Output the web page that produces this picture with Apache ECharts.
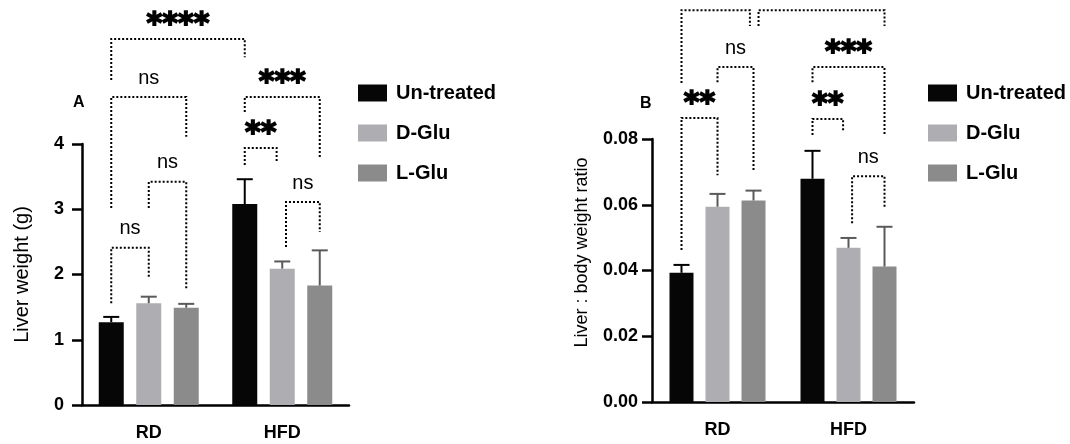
<!DOCTYPE html>
<html>
<head>
<meta charset="utf-8">
<script src="https://cdn.jsdelivr.net/npm/echarts@6/dist/echarts.min.js"></script>
<style>
html, body { margin: 0; padding: 0; background: #fff; }
#chart { width: 1070px; height: 444px; }
</style>
</head>
<body>
<div id="chart"></div>
<script>
const categories = ['RD', 'HFD'];
const groups = ['Un-treated', 'D-Glu', 'L-Glu'];
const groupColors = ['#060606', '#aeaeb2', '#8b8b8b'];
const errColors = ['#000000', '#5a5a5a', '#5a5a5a'];

// panel A - liver weight (g): means and upper error
const weightUntreated = [1.27, 3.08];
const weightDGlu = [1.56, 2.09];
const weightLGlu = [1.49, 1.83];
const weightUntreatedErr = [0.08, 0.38];
const weightDGluErr = [0.10, 0.11];
const weightLGluErr = [0.06, 0.54];
const weightTicks = [0, 1, 2, 3, 4];

// panel B - liver : body weight ratio
const ratioUntreated = [0.0393, 0.0679];
const ratioDGlu = [0.0594, 0.0469];
const ratioLGlu = [0.0613, 0.0412];
const ratioUntreatedErr = [0.0024, 0.0085];
const ratioDGluErr = [0.0039, 0.0030];
const ratioLGluErr = [0.0030, 0.0121];
const ratioTicks = [0, 0.02, 0.04, 0.06, 0.08];

// brackets: [from bar, to bar, line value, left leg end, right leg end, label]
// bars are numbered 0-2 for RD and 3-5 for HFD
const weightBrackets = [
  [0, 3, 5.61, 4.98, 5.33, '****'],
  [0, 2, 4.72, 3.02, 4.11, 'ns'],
  [0, 1, 2.41, 1.56, 1.95, 'ns'],
  [1, 2, 3.42, 3.02, 1.79, 'ns'],
  [3, 5, 4.72, 4.49, 3.79, '***'],
  [3, 3.85, 3.94, 3.68, 3.72, '**'],
  [4.1, 5, 3.11, 2.42, 2.65, 'ns']
];
const ratioBrackets = [
  [0, 1.9, 0.1192, 0.0970, 0.1144, ''],
  [2.14, 5, 0.1192, 0.1144, 0.1144, ''],
  [1, 2, 0.1019, 0.0973, 0.0700, 'ns'],
  [0, 1, 0.0864, 0.0462, 0.0690, '**'],
  [3, 5, 0.1019, 0.0973, 0.0812, '***'],
  [3, 3.85, 0.0861, 0.0812, 0.0821, '**'],
  [4.1, 5, 0.0687, 0.0544, 0.0590, 'ns']
];

const FONT = 'Liberation Sans, Arial, sans-serif';

const panels = [
  {
    grid: { left: 82, width: 267, top: 144, height: 261 },
    means: [weightUntreated, weightDGlu, weightLGlu],
    errs: [weightUntreatedErr, weightDGluErr, weightLGluErr],
    ticks: weightTicks, decimals: 0,
    brackets: weightBrackets,
    barWidth: 25, spacing: 37.5,
    name: 'Liver weight (g)', nameSize: 20, nameGap: 50, namePad: [0, 0, 0, 0],
    labelMargin: 18
  },
  {
    grid: { left: 652, width: 262, top: 139, height: 263 },
    means: [ratioUntreated, ratioDGlu, ratioLGlu],
    errs: [ratioUntreatedErr, ratioDGluErr, ratioLGluErr],
    ticks: ratioTicks, decimals: 2,
    brackets: ratioBrackets,
    barWidth: 24, spacing: 36,
    name: 'Liver : body weight ratio', nameSize: 18, nameGap: 61, namePad: [0, 0, 0, 36],
    labelMargin: 14
  }
];

function errorRenderer(spacing) {
  return function (params, api) {
    const cat = api.value(0);
    const g = api.value(1);
    const base = api.coord([cat, api.value(2)]);
    const top = api.coord([cat, api.value(2) + api.value(3)]);
    const x = base[0] + (g - 1) * spacing;
    const style = { stroke: errColors[g], lineWidth: 2 };
    return {
      type: 'group',
      children: [
        { type: 'line', shape: { x1: x, y1: base[1], x2: x, y2: top[1] }, style: style },
        { type: 'line', shape: { x1: x - 8, y1: top[1], x2: x + 8, y2: top[1] }, style: style }
      ]
    };
  };
}

function bracketRenderer(brackets, spacing) {
  return function (params, api) {
    const b = brackets[params.dataIndex];
    const sx = function (s) {
      const cat = s >= 2.5 ? 1 : 0;
      return api.coord([cat, 0])[0] + (s - cat * 3 - 1) * spacing;
    };
    const sy = function (v) { return api.coord([0, v])[1]; };
    const x1 = sx(b[0]), x2 = sx(b[1]), yl = sy(b[2]);
    const children = [{
      type: 'polyline',
      shape: { points: [[x1, sy(b[3])], [x1, yl], [x2, yl], [x2, sy(b[4])]] },
      style: { stroke: '#000', lineWidth: 2, lineDash: [2, 2], fill: 'none' }
    }];
    if (b[5]) {
      const stars = b[5] !== 'ns';
      children.push({
        type: 'text',
        x: (x1 + x2) / 2,
        y: yl - (stars ? 14 : 19),
        style: {
          text: b[5], align: 'center', verticalAlign: 'middle', fill: '#000',
          stroke: stars ? '#000' : null, lineWidth: stars ? 1.6 : 0,
          fontSize: stars ? 30 : 20,
          fontWeight: stars ? 'bold' : 'normal',
          fontFamily: stars ? 'DejaVu Sans' : FONT
        }
      });
    }
    return { type: 'group', children: children };
  };
}

const grids = [], xAxes = [], yAxes = [], series = [];
panels.forEach(function (p, i) {
  grids.push(p.grid);
  xAxes.push({
    type: 'category', gridIndex: i, data: categories,
    axisLine: { lineStyle: { color: '#000', width: 2.5 } },
    axisTick: { alignWithLabel: true, length: 8, lineStyle: { color: '#000', width: 2.5 } },
    axisLabel: { color: '#000', fontSize: 18, fontWeight: 'bold', fontFamily: FONT, margin: 19 }
  });
  yAxes.push({
    type: 'value', gridIndex: i,
    min: p.ticks[0], max: p.ticks[p.ticks.length - 1],
    interval: p.ticks[1] - p.ticks[0],
    splitLine: { show: false },
    axisLine: { show: true, lineStyle: { color: '#000', width: 2.5 } },
    axisTick: { show: true, length: 10, lineStyle: { color: '#000', width: 2.5 } },
    axisLabel: {
      color: '#000', fontSize: 18, fontWeight: 'bold', fontFamily: FONT, margin: p.labelMargin,
      formatter: function (v) { return v.toFixed(p.decimals); }
    },
    name: p.name, nameLocation: 'middle', nameGap: p.nameGap,
    nameTextStyle: { color: '#000', fontSize: p.nameSize, fontFamily: FONT, padding: p.namePad }
  });
  groups.forEach(function (g, k) {
    series.push({
      name: g, type: 'bar', xAxisIndex: i, yAxisIndex: i,
      data: p.means[k], barWidth: p.barWidth, barGap: '50%',
      itemStyle: { color: groupColors[k] }
    });
  });
  const errData = [];
  groups.forEach(function (g, k) {
    categories.forEach(function (c, j) { errData.push([j, k, p.means[k][j], p.errs[k][j]]); });
  });
  series.push({
    type: 'custom', xAxisIndex: i, yAxisIndex: i, clip: false, silent: true, z: 3,
    renderItem: errorRenderer(p.spacing), data: errData,
    encode: { x: 0, y: 2 }
  });
  series.push({
    type: 'custom', xAxisIndex: i, yAxisIndex: i, clip: false, silent: true, z: 4,
    renderItem: bracketRenderer(p.brackets, p.spacing),
    data: p.brackets.map(function (b) { return [0, 0]; }),
    encode: { x: 0, y: 1 }
  });
});

const legendBase = {
  data: groups, orient: 'vertical', top: 83, icon: 'rect', padding: 0,
  itemWidth: 29, itemHeight: 17, itemGap: 20, selectedMode: false,
  textStyle: { color: '#000', fontSize: 20, fontWeight: 'bold', fontFamily: FONT, padding: [0, 0, 0, 4] }
};

const chart = echarts.init(document.getElementById('chart'), null, { renderer: 'canvas' });
chart.setOption({
  animation: false,
  backgroundColor: '#fff',
  title: [
    { text: 'A', left: 73, top: 95, padding: 0, textStyle: { fontSize: 16, fontWeight: 'bold', color: '#000', fontFamily: FONT } },
    { text: 'B', left: 640, top: 96, padding: 0, textStyle: { fontSize: 16, fontWeight: 'bold', color: '#000', fontFamily: FONT } }
  ],
  legend: [
    Object.assign({}, legendBase, { left: 358 }),
    Object.assign({}, legendBase, { left: 928 })
  ],
  grid: grids,
  xAxis: xAxes,
  yAxis: yAxes,
  series: series
});
</script>
</body>
</html>
